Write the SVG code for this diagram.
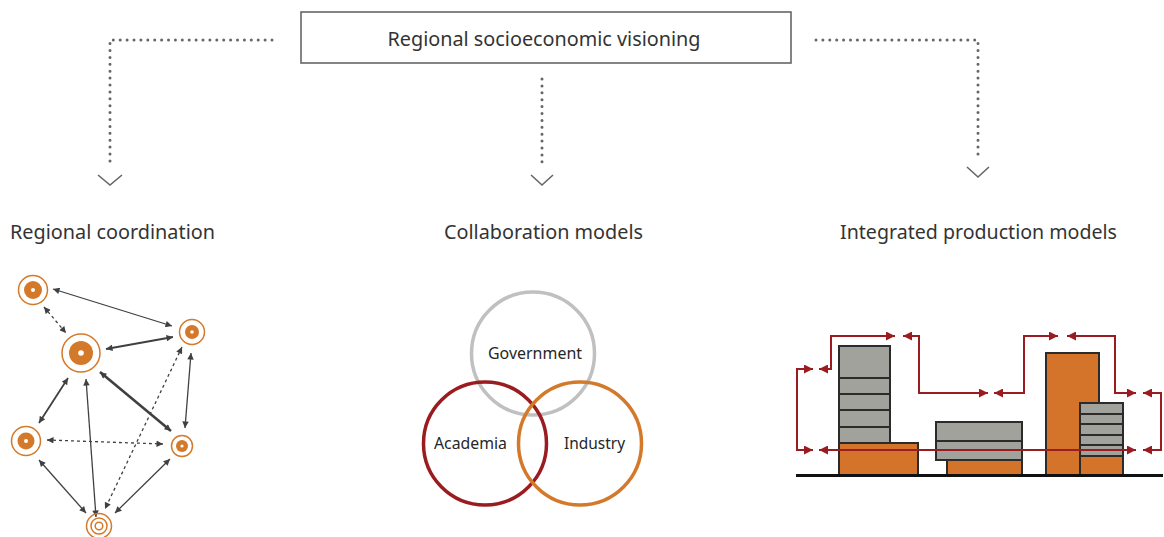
<svg xmlns="http://www.w3.org/2000/svg" width="1164" height="537" viewBox="0 0 1164 537">
  <defs>
    <style>
      text { font-family: "Noto Sans", "Open Sans", "Liberation Sans", sans-serif; fill: #333333; }
      .title { font-size: 19.5px; }
      .venn { font-size: 16px; fill: #262626; }
      .dots { fill: none; stroke: #666666; stroke-width: 3; stroke-dasharray: 0 6.9; stroke-linecap: round; }
      .chev { fill: none; stroke: #666666; stroke-width: 1.6; }
      .ring { fill: none; stroke: #d4792a; stroke-width: 1.5; }
      .core { fill: #d4792a; }
      .pin { fill: #ffffff; }
      .link { fill: none; stroke: #404040; stroke-width: 1.3; marker-start: url(#ah); marker-end: url(#ah); }
      .dash { stroke-dasharray: 3 3; }
      .bld { stroke: #2b2b2b; stroke-width: 2; }
      .gray { fill: #a0a29b; }
      .orange { fill: #d4742a; }
      .floor { stroke: #2b2b2b; stroke-width: 2; }
      .flow { fill: none; stroke: #9b1c20; stroke-width: 2; marker-start: url(#rh); marker-end: url(#rh); }
    </style>
    <marker id="ah" viewBox="0 0 10 10" refX="10" refY="5" markerWidth="7.5" markerHeight="6.5" markerUnits="userSpaceOnUse" orient="auto-start-reverse">
      <path d="M0,0 L10,5 L0,10 Z" fill="#404040"/>
    </marker>
    <marker id="rh" viewBox="0 0 10 10" refX="10" refY="5" markerWidth="9" markerHeight="9" markerUnits="userSpaceOnUse" orient="auto-start-reverse">
      <path d="M0,0 L10,5 L0,10 Z" fill="#9b1c20"/>
    </marker>
  </defs>

  <rect width="1164" height="537" fill="#ffffff"/>

  <!-- header node -->
  <g id="vision">
    <rect x="301" y="12" width="490" height="51" fill="#ffffff" stroke="#666666" stroke-width="1.6"/>
    <text x="544" y="46" text-anchor="middle" font-size="19.5" textLength="313" lengthAdjust="spacingAndGlyphs">Regional socioeconomic visioning</text>
  </g>

  <!-- branch connectors from the header -->
  <g id="branches">
    <path class="dots" d="M272,40 H110 V166"/>
    <polyline class="chev" points="98,175 110,185 122,175"/>
    <path class="dots" d="M542,79 V167"/>
    <polyline class="chev" points="531,175 542,185 553,175"/>
    <path class="dots" d="M816,40 H978 V159"/>
    <polyline class="chev" points="967,167 978,177 989,167"/>
  </g>

  <!-- section titles -->
  <g id="titles">
    <text class="title" x="10" y="239" textLength="205" lengthAdjust="spacingAndGlyphs">Regional coordination</text>
    <text class="title" x="444" y="239" textLength="199" lengthAdjust="spacingAndGlyphs">Collaboration models</text>
    <text class="title" x="840" y="239" textLength="277" lengthAdjust="spacingAndGlyphs">Integrated production models</text>
  </g>

  <!-- regional coordination network: links -->
  <g id="network-links">
    <line class="link" x1="53" y1="289" x2="172" y2="326"/>
    <line class="link dash" x1="44" y1="307" x2="66" y2="333"/>
    <line class="link" style="stroke-width:1.8" x1="106" y1="349" x2="173" y2="337"/>
    <line class="link" style="stroke-width:1.8" x1="68" y1="378" x2="39" y2="423"/>
    <line class="link" style="stroke-width:2.6" x1="100" y1="372" x2="171" y2="431"/>
    <line class="link" x1="86" y1="379" x2="96" y2="517"/>
    <line class="link" x1="191" y1="353" x2="185" y2="428"/>
    <line class="link dash" x1="182" y1="347" x2="105" y2="509"/>
    <line class="link dash" x1="47" y1="440" x2="163" y2="444"/>
    <line class="link" x1="39" y1="460" x2="86" y2="513"/>
    <line class="link" x1="170" y1="459" x2="115" y2="513"/>
  </g>

  <!-- regional coordination network: nodes -->
  <g id="node-a">
    <circle class="ring" cx="33" cy="290" r="14.5"/>
    <circle class="core" cx="33" cy="290" r="9"/>
    <circle class="pin" cx="33" cy="290" r="2"/>
  </g>
  <g id="node-b">
    <circle class="ring" cx="81" cy="353" r="19"/>
    <circle class="core" cx="81" cy="353" r="12"/>
    <circle class="pin" cx="81" cy="353" r="2.8"/>
  </g>
  <g id="node-c">
    <circle class="ring" cx="192" cy="332" r="12.5"/>
    <circle class="core" cx="192" cy="332" r="7"/>
    <circle class="pin" cx="192" cy="332" r="1.8"/>
  </g>
  <g id="node-d">
    <circle class="ring" cx="26" cy="441" r="14.5"/>
    <circle class="core" cx="26" cy="441" r="8.5"/>
    <circle class="pin" cx="26" cy="441" r="2"/>
  </g>
  <g id="node-e">
    <circle class="ring" cx="182" cy="446" r="10.5"/>
    <circle class="core" cx="182" cy="446" r="6"/>
    <circle class="pin" cx="182" cy="446" r="1.6"/>
  </g>
  <g id="node-f">
    <circle class="ring" cx="99" cy="526" r="12.5"/>
    <circle class="ring" cx="99" cy="526" r="8"/>
    <circle class="ring" cx="99" cy="526" r="3.8"/>
  </g>

  <!-- collaboration models: triple helix -->
  <g id="government">
    <circle cx="533" cy="353.5" r="61.5" fill="none" stroke="#c0c0c0" stroke-width="3.5"/>
    <text class="venn" x="535" y="359" text-anchor="middle" textLength="94" lengthAdjust="spacingAndGlyphs">Government</text>
  </g>
  <g id="academia">
    <circle cx="485" cy="443.5" r="61.5" fill="none" stroke="#9b1c20" stroke-width="3.5"/>
    <text class="venn" x="434" y="449" textLength="73" lengthAdjust="spacingAndGlyphs">Academia</text>
  </g>
  <g id="industry">
    <circle cx="580" cy="443.5" r="61.5" fill="none" stroke="#d4792a" stroke-width="3.5"/>
    <text class="venn" x="564" y="449" textLength="61" lengthAdjust="spacingAndGlyphs">Industry</text>
  </g>

  <!-- integrated production: buildings -->
  <g id="building-1">
    <rect class="bld gray" x="839" y="346" width="51" height="97"/>
    <line class="floor" x1="839" y1="378" x2="890" y2="378"/>
    <line class="floor" x1="839" y1="394" x2="890" y2="394"/>
    <line class="floor" x1="839" y1="410" x2="890" y2="410"/>
    <line class="floor" x1="839" y1="427" x2="890" y2="427"/>
    <rect class="bld orange" x="839" y="443" width="79" height="32"/>
  </g>
  <g id="building-2">
    <rect class="bld gray" x="936" y="422" width="86" height="38"/>
    <line class="floor" x1="936" y1="441" x2="1022" y2="441"/>
    <rect class="bld orange" x="947" y="460" width="75" height="15"/>
  </g>
  <g id="building-3">
    <rect class="bld orange" x="1046" y="353" width="53" height="122"/>
    <rect class="bld gray" x="1080" y="403" width="43" height="53"/>
    <line class="floor" x1="1080" y1="414" x2="1123" y2="414"/>
    <line class="floor" x1="1080" y1="424" x2="1123" y2="424"/>
    <line class="floor" x1="1080" y1="435" x2="1123" y2="435"/>
    <line class="floor" x1="1080" y1="445" x2="1123" y2="445"/>
    <rect class="bld orange" x="1080" y="456" width="43" height="19"/>
  </g>
  <g id="ground">
    <line x1="796" y1="475.5" x2="1163" y2="475.5" stroke="#111111" stroke-width="3"/>
  </g>

  <!-- integrated production: exchange flows -->
  <g id="flows">
    <path class="flow" d="M813,369 H797 V450 H813"/>
    <path class="flow" d="M819,369 H831 V336 H895"/>
    <path class="flow" d="M903,336 H919 V393 H988"/>
    <path class="flow" d="M994,393 H1024 V336 H1058"/>
    <path class="flow" d="M1067,336 H1115 V393 H1136"/>
    <path class="flow" d="M1143,393 H1161 V450 H1143"/>
    <path class="flow" d="M819,450 H1136"/>
  </g>
</svg>
